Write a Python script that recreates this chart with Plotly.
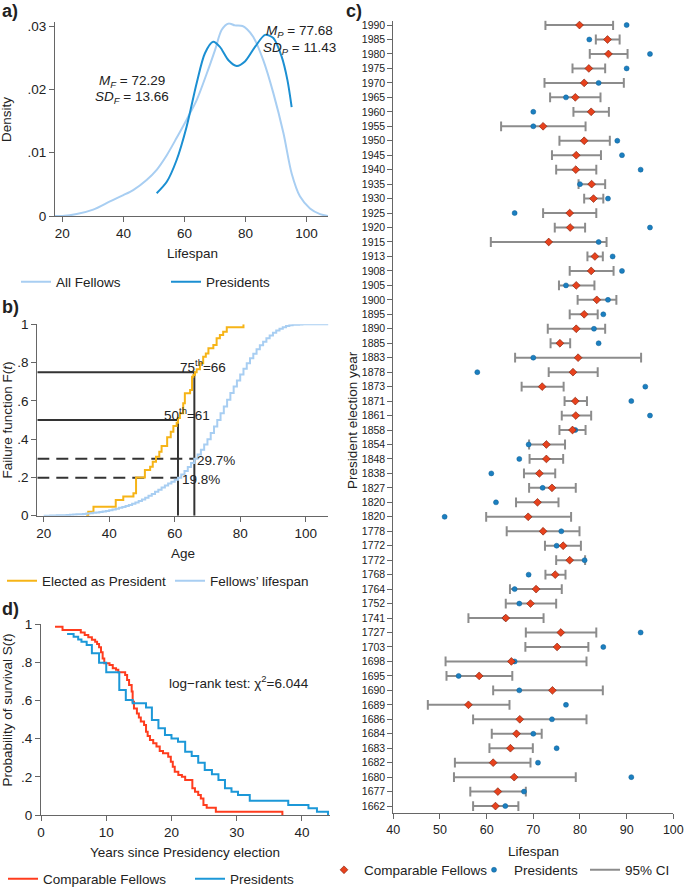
import plotly.graph_objects as go

W, H = 685, 888
FONT = "Liberation Sans, Arial, sans-serif"


def px(x):
    return x / W


def py(y):
    return 1 - y / H


# ---------------- Panel a: density of lifespan ----------------
fellows_density_x = [17.6, 20, 24.7, 30.1, 35.6, 40, 43.2, 47.6, 50.9, 54.2, 57.4, 60.7, 64, 67.3, 70,
                     72.2, 74.5, 76.5, 79, 80.5, 82.5, 85.8, 89.1, 92.4, 95.1, 97.8, 101.1, 104.4, 107]
fellows_density_y = [0, 0.0, 0.0003, 0.001, 0.0023, 0.0033, 0.0041, 0.0057, 0.0073, 0.0096, 0.0123, 0.0152,
                     0.0183, 0.0225, 0.0262, 0.0294, 0.0304, 0.0301, 0.0300, 0.0295, 0.0283, 0.0246, 0.0194,
                     0.0131, 0.0067, 0.0031, 0.0012, 0.0003, 0]
president_density_x = [50.9, 54.2, 57.4, 60.7, 64, 66.7, 69.4, 71.6, 74.4, 77.1, 79.8, 83.1, 86.4, 89.1,
                       91.8, 93.7, 95.1]
president_density_y = [0.0036, 0.0054, 0.0088, 0.0141, 0.021, 0.0257, 0.0275, 0.0267, 0.0246, 0.0237,
                       0.0244, 0.0267, 0.0286, 0.0281, 0.0252, 0.0215, 0.0172]

# ---------------- Panel b: failure functions ----------------
fellows_cdf_age = list(range(20, 101)) + [107]
fellows_cdf = [0.000, 0.000, 0.001, 0.001, 0.002, 0.002, 0.003, 0.004, 0.005, 0.006,
               0.007, 0.008, 0.009, 0.011, 0.013, 0.015, 0.017, 0.019, 0.022, 0.025,
               0.028, 0.032, 0.036, 0.041, 0.046, 0.051, 0.056, 0.062, 0.069, 0.077,
               0.085, 0.094, 0.104, 0.114, 0.125, 0.136, 0.147, 0.158, 0.168, 0.178,
               0.188, 0.198, 0.215, 0.234, 0.254, 0.275, 0.297, 0.320, 0.345, 0.372,
               0.400, 0.432, 0.466, 0.500, 0.535, 0.570, 0.606, 0.641, 0.675, 0.707,
               0.738, 0.768, 0.796, 0.822, 0.846, 0.869, 0.890, 0.909, 0.927, 0.942,
               0.956, 0.967, 0.977, 0.985, 0.991, 0.995, 0.997, 0.998, 0.999, 1.000,
               1.000, 1.000]
elected_age = [33, 33.6, 35.2, 42, 44.3, 47.4, 48.2, 50.9, 52.5, 53.3, 54.3, 55.3, 56, 57.7, 58.8, 59.6,
               60.6, 61, 61.6, 62.6, 63.1, 64.7, 65.3, 65.7, 66.2, 66.7, 67.7, 68.7, 69.5, 70.3, 71.8,
               72.8, 73.8, 74.8, 75.9, 81]
elected_cdf = [0.0, 0.02, 0.047, 0.082, 0.1, 0.117, 0.2, 0.239, 0.256, 0.282, 0.308, 0.334, 0.364, 0.41,
               0.439, 0.469, 0.485, 0.51, 0.535, 0.587, 0.64, 0.657, 0.726, 0.735, 0.75, 0.765, 0.796,
               0.83, 0.848, 0.875, 0.892, 0.927, 0.944, 0.961, 0.984, 1.0]
quantile_ages = [61, 66]
quantile_levels = [0.5, 0.75]
fellows_at_quantile = [0.198, 0.297]

# ---------------- Panel d: Kaplan-Meier survival ----------------
fellows_km_t = [2.15, 3.3, 6.1, 6.7, 7.25, 7.8, 8.3, 8.6, 8.9, 9.2, 9.45, 9.7, 10.5, 11.0, 11.5, 11.85,
                12.9, 13.2, 13.5, 13.9, 14.05, 14.25, 14.7, 15.0, 15.3, 15.8, 16.1, 16.35, 16.7, 17.2,
                17.7, 18.2, 18.7, 19.5, 19.9, 20.2, 20.5, 21.05, 21.6, 22.1, 23.2, 23.6, 24.1, 24.5,
                24.9, 25.4, 26.8, 37.0]
fellows_km_s = [0.986, 0.969, 0.955, 0.942, 0.93, 0.918, 0.907, 0.895, 0.878, 0.852, 0.82, 0.794, 0.785,
                0.768, 0.76, 0.747, 0.733, 0.707, 0.68, 0.646, 0.593, 0.558, 0.532, 0.51, 0.489, 0.471,
                0.436, 0.414, 0.393, 0.375, 0.358, 0.335, 0.323, 0.305, 0.279, 0.253, 0.227, 0.209, 0.2,
                0.183, 0.14, 0.122, 0.105, 0.087, 0.052, 0.038, 0.017, 0.0]
pres_km_t = [4.0, 5.0, 5.7, 6.2, 7.0, 7.8, 8.9, 10.0, 12.0, 13.0, 14.05, 16.1, 17.0, 18.0, 19.0, 20.0,
             21.0, 22.1, 23.1, 24.1, 25.1, 26.2, 27.2, 28.2, 29.2, 30.2, 32.0, 37.9, 41.0, 42.3, 44.0]
pres_km_s = [0.948, 0.933, 0.919, 0.907, 0.89, 0.847, 0.797, 0.747, 0.654, 0.602, 0.585, 0.563, 0.497,
             0.454, 0.419, 0.401, 0.384, 0.331, 0.309, 0.274, 0.236, 0.213, 0.183, 0.14, 0.122, 0.105,
             0.075, 0.052, 0.035, 0.017, 0.0]

# ---------------- Panel c: per-election comparison ----------------
election_years = ["1990", "1985", "1980", "1975", "1970", "1965", "1960", "1955", "1950", "1945", "1940",
                  "1935", "1930", "1925", "1920", "1915", "1913", "1908", "1905", "1900", "1895", "1890",
                  "1885", "1883", "1878", "1873", "1871", "1861", "1858", "1854", "1848", "1838", "1827",
                  "1820", "1820", "1778", "1772", "1772", "1768", "1764", "1752", "1741", "1727", "1703",
                  "1698", "1695", "1690", "1689", "1686", "1684", "1683", "1682", "1680", "1677", "1662"]
fellows_mean = [79.9, 85.9, 86.1, 81.9, 80.9, 79.0, 82.4, 72.1, 80.9, 79.2, 79.1, 82.5, 82.9, 77.8, 77.9,
                73.3, 83.2, 82.4, 79.2, 83.6, 80.9, 79.2, 75.7, 79.6, 78.5, 71.9, 79.0, 79.1, 78.4, 72.8,
                72.8, 71.3, 74.0, 70.9, 68.9, 72.1, 76.4, 77.8, 74.7, 70.6, 69.4, 64.1, 75.9, 75.1, 65.3,
                58.4, 74.1, 56.1, 67.1, 66.4, 65.1, 61.4, 65.9, 62.4, 61.9]
ci_low = [72.6, 83.4, 82.1, 78.4, 72.4, 73.6, 78.6, 63.1, 75.6, 74.0, 74.9, 79.7, 80.9, 72.1, 74.6, 60.9,
          81.6, 77.8, 75.5, 79.5, 77.8, 73.1, 73.7, 66.1, 73.3, 67.5, 76.7, 76.1, 75.6, 69.1, 69.2, 68.0,
          69.1, 66.3, 59.9, 64.3, 72.5, 74.9, 72.6, 65.0, 64.1, 56.1, 68.4, 68.3, 51.2, 51.4, 61.4, 47.4,
          57.1, 61.1, 60.6, 53.2, 53.0, 56.5, 57.1]
ci_high = [87.1, 88.5, 90.2, 85.4, 89.4, 84.4, 86.2, 81.2, 86.4, 84.5, 83.5, 85.4, 85.0, 83.5, 81.1, 85.7,
           84.9, 87.2, 83.1, 87.8, 83.8, 85.4, 77.9, 93.1, 83.8, 76.5, 81.5, 82.4, 81.2, 76.8, 76.4, 74.7,
           79.1, 75.4, 78.1, 79.9, 80.2, 81.1, 76.9, 76.1, 74.9, 72.2, 83.5, 81.8, 81.4, 65.5, 84.9, 64.9,
           81.4, 71.8, 69.9, 69.4, 79.1, 68.4, 66.8]
president_lifespan = [90, 82, 95, 90, 84, 77, 70, 70, 88, 89, 93, 80, 86, 66, 95, 84, 87, 89, 77, 86, 85,
                      83, 84, 70, 58, 94, 91, 95, 79, 69, 67, 61, 72, 62, 51, 76, 75, 81, 69, 66, 67, 64,
                      93, 85, 66, 54, 67, 77, 74, 70, 75, 71, 91, 68, 64]

# colours
LIGHT_BLUE = "#a8cef2"
BLUE_A = "#1b8fd2"
ORANGE = "#f6b417"
KM_RED = "#ff3c1e"
KM_BLUE = "#1c98d8"
C_RED = "#e8421d"
C_BLUE = "#1b7fc0"
CI_GRAY = "#8c8c8c"
AX = "#666666"
TXT = "#222222"
REF = "#333333"

fig = go.Figure()

# Panel a
fig.add_trace(go.Scatter(x=fellows_density_x, y=fellows_density_y, mode="lines", name="All Fellows",
                         line=dict(color=LIGHT_BLUE, width=2, shape="spline", smoothing=0.8),
                         xaxis="x", yaxis="y", legend="legend"))
fig.add_trace(go.Scatter(x=president_density_x, y=president_density_y, mode="lines", name="Presidents",
                         line=dict(color=BLUE_A, width=2, shape="spline", smoothing=0.8),
                         xaxis="x", yaxis="y", legend="legend2"))

# Panel b reference lines
x2_min = 18.05
for age, lev in zip(quantile_ages, quantile_levels):
    fig.add_trace(go.Scatter(x=[x2_min, age, age], y=[lev, lev, 0], mode="lines", showlegend=False,
                             line=dict(color=REF, width=2), xaxis="x2", yaxis="y2", hoverinfo="skip"))
for age, lev in zip(quantile_ages, fellows_at_quantile):
    fig.add_trace(go.Scatter(x=[x2_min, age], y=[lev, lev], mode="lines", showlegend=False,
                             line=dict(color=REF, width=2, dash="12px,7px"), xaxis="x2", yaxis="y2",
                             hoverinfo="skip"))
fig.add_trace(go.Scatter(x=elected_age, y=elected_cdf, mode="lines", name="Elected as President",
                         line=dict(color=ORANGE, width=2, shape="hv"), xaxis="x2", yaxis="y2",
                         legend="legend3"))
fig.add_trace(go.Scatter(x=fellows_cdf_age, y=fellows_cdf, mode="lines", name="Fellows\u2019 lifespan",
                         line=dict(color=LIGHT_BLUE, width=2, shape="hv"), xaxis="x2", yaxis="y2",
                         legend="legend4"))

# Panel d
fig.add_trace(go.Scatter(x=fellows_km_t, y=fellows_km_s, mode="lines", name="Comparable Fellows",
                         line=dict(color=KM_RED, width=2, shape="hv"), xaxis="x3", yaxis="y3",
                         legend="legend5"))
fig.add_trace(go.Scatter(x=pres_km_t, y=pres_km_s, mode="lines", name="Presidents",
                         line=dict(color=KM_BLUE, width=2, shape="hv"), xaxis="x3", yaxis="y3",
                         legend="legend6"))

# Panel c
n = len(election_years)
ypos = [n - 1 - i for i in range(n)]
ci_x, ci_y = [], []
for lo, hi, yy in zip(ci_low, ci_high, ypos):
    ci_x += [lo, hi, None]
    ci_y += [yy, yy, None]
fig.add_trace(go.Scatter(x=ci_x, y=ci_y, mode="lines", name="95% CI",
                         line=dict(color=CI_GRAY, width=2), xaxis="x4", yaxis="y4", legend="legend9"))
fig.add_trace(go.Scatter(x=ci_low + ci_high, y=ypos + ypos, mode="markers", showlegend=False,
                         marker=dict(symbol="line-ns-open", size=7, color=CI_GRAY,
                                     line=dict(color=CI_GRAY, width=2)),
                         xaxis="x4", yaxis="y4", hoverinfo="skip"))
fig.add_trace(go.Scatter(x=president_lifespan, y=ypos, mode="markers", name="Presidents",
                         marker=dict(symbol="circle", size=5, color=C_BLUE,
                                     line=dict(color="#0e5f94", width=0.5)),
                         xaxis="x4", yaxis="y4", legend="legend8"))
fig.add_trace(go.Scatter(x=fellows_mean, y=ypos, mode="markers", name="Comparable Fellows",
                         marker=dict(symbol="diamond", size=6, color=C_RED,
                                     line=dict(color="#7a1a05", width=0.6)),
                         xaxis="x4", yaxis="y4", legend="legend7"))

axis_common = dict(showline=True, linecolor=AX, linewidth=1, ticks="outside", ticklen=5, tickcolor=AX,
                   tickwidth=1, showgrid=False, zeroline=False,
                   tickfont=dict(family=FONT, size=13.5, color=TXT))

lay = dict(
    width=W, height=H, autosize=False, margin=dict(l=0, r=0, t=0, b=0, autoexpand=False),
    paper_bgcolor="white", plot_bgcolor="white",
    font=dict(family=FONT, size=13.5, color=TXT),
    xaxis=dict(domain=[px(55), px(328)], range=[17.6, 107], anchor="y",
               tickvals=[20, 40, 60, 80, 100], **axis_common),
    yaxis=dict(domain=[py(216), py(22.2)], range=[0, 0.0306], anchor="x",
               tickvals=[0, 0.01, 0.02, 0.03], ticktext=["0", ".01", ".02", ".03"], **axis_common),
    xaxis2=dict(domain=[px(37.3), px(328.3)], range=[x2_min, 106.9], anchor="y2",
                tickvals=[20, 40, 60, 80, 100], **axis_common),
    yaxis2=dict(domain=[py(515.7), py(324.3)], range=[0, 1], anchor="x2",
                tickvals=[0, 0.2, 0.4, 0.6, 0.8, 1], ticktext=["0", ".2", ".4", ".6", ".8", "1"],
                **axis_common),
    xaxis3=dict(domain=[px(41), px(330)], range=[0, 44.3], anchor="y3",
                tickvals=[0, 10, 20, 30, 40], **axis_common),
    yaxis3=dict(domain=[py(815), py(624)], range=[0, 1], anchor="x3",
                tickvals=[0, 0.2, 0.4, 0.6, 0.8, 1], ticktext=["0", ".2", ".4", ".6", ".8", "1"],
                **axis_common),
    xaxis4=dict(domain=[px(393.3), px(673.3)], range=[40, 100], anchor="y4",
                tickvals=[40, 50, 60, 70, 80, 90, 100], **{**axis_common,
                                                           "tickfont": dict(family=FONT, size=12.5,
                                                                            color=TXT)}),
    yaxis4=dict(domain=[py(813.3), py(20.7)], range=[-0.5, 54.3], anchor="x4",
                tickvals=ypos, ticktext=election_years, **{**axis_common,
                                                           "tickfont": dict(family=FONT, size=10.5,
                                                                            color=TXT)}),
)


def legend_at(x_item, y_center):
    return dict(x=px(x_item), y=py(y_center), xanchor="left", yanchor="middle", orientation="h",
                bgcolor="rgba(0,0,0,0)", borderwidth=0,
                font=dict(family=FONT, size=13.5, color=TXT))


lay["legend"] = legend_at(16, 282)
lay["legend2"] = legend_at(166, 282)
lay["legend3"] = legend_at(2, 581)
lay["legend4"] = legend_at(170, 581)
lay["legend5"] = legend_at(3, 879)
lay["legend6"] = legend_at(190, 879)
lay["legend7"] = legend_at(324, 870)
lay["legend8"] = legend_at(474, 870)
lay["legend9"] = legend_at(585, 870)

fig.update_layout(**lay)


def ann(text, x, y, xanchor="center", size=13.5, angle=0, bold=False):
    fig.add_annotation(text=f"<b>{text}</b>" if bold else text, x=px(x), y=py(y), xref="paper",
                       yref="paper", xanchor=xanchor, yanchor="middle", showarrow=False,
                       textangle=angle, font=dict(family=FONT, size=size, color=TXT))


# panel letters
ann("a)", 0, 11, xanchor="left", size=18, bold=True)
ann("b)", 0, 307, xanchor="left", size=18, bold=True)
ann("c)", 344, 11, xanchor="left", size=18, bold=True)
ann("d)", 0, 609, xanchor="left", size=18, bold=True)

# axis titles
ann("Density", 7, 120, angle=-90)
ann("Lifespan", 192, 253)
ann("Failure function F(<i>t</i>)", 6.5, 420, angle=-90)
ann("Age", 182.7, 553)
ann("Probability of survival S(<i>t</i>)", 6.5, 710, angle=-90)
ann("Years since Presidency election", 185, 852)
ann("President election year", 352, 420, angle=-90)
ann("Lifespan", 533.3, 851)

# in-panel labels
ann("<i>M</i><sub><i>F</i></sub> = 72.29", 132, 81)
ann("<i>SD</i><sub><i>F</i></sub> = 13.66", 132, 98)
ann("<i>M</i><sub><i>P</i></sub> = 77.68", 335, 31, xanchor="right")
ann("<i>SD</i><sub><i>P</i></sub> = 11.43", 338, 48, xanchor="right")
ann("75<sup>th</sup>=66", 177.7, 366, xanchor="left")
ann("50<sup>th</sup>=61", 161.7, 414, xanchor="left")
ann("29.7%", 195, 460, xanchor="left")
ann("19.8%", 180, 479, xanchor="left")
ann("log\u2212rank test: \u03c7<sup>2</sup>=6.044", 166.7, 682, xanchor="left")

fig.write_html("out.html", config={"displayModeBar": False},
               post_script="document.body.style.margin='0px';document.body.style.overflow='hidden';")
